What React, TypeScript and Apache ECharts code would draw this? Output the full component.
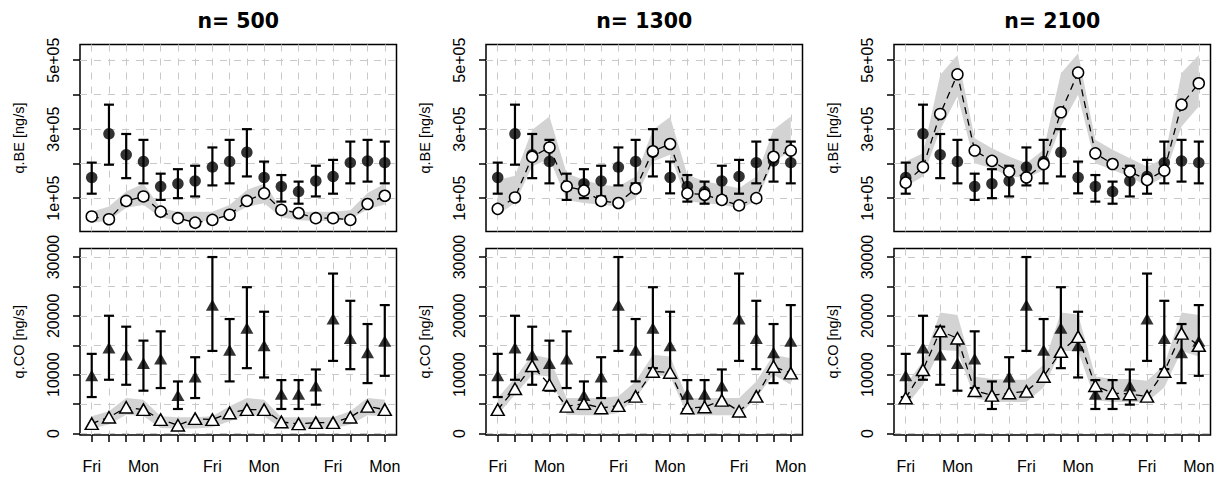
import React, { useEffect, useRef } from "react";
import * as echarts from "echarts";

const days = ["Fri","Sat","Sun","Mon","Tue","Wed","Thu","Fri","Sat","Sun","Mon","Tue","Wed","Thu","Fri","Sat","Sun","Mon"];
const dayPositions = days.map((_, i) => i + 1);
const labelledDays = [1, 4, 8, 11, 15, 18];
const titles = ["n= 500", "n= 1300", "n= 2100"];
const beTicks = [100000, 200000, 300000, 400000, 500000];
const beTickLabels = [100000, 300000, 500000];
const coTicks = [0, 5000, 10000, 15000, 20000, 25000, 30000];
const coTickLabels = [0, 10000, 20000, 30000];

// observations (same in every column)
const obsBE = [160000, 286500, 226000, 206000, 134000, 142000, 150000, 190000, 206000, 233000, 160000, 134000, 119000, 150000, 163000, 203000, 208000, 203000];
const obsBELo = [113000, 197000, 158000, 143000, 95000, 100000, 105000, 137000, 143000, 163000, 114000, 90000, 84000, 105000, 113000, 143000, 148000, 143000];
const obsBEHi = [203000, 371000, 286000, 269000, 171000, 184000, 194000, 247000, 269000, 300000, 206000, 167000, 148000, 194000, 211000, 264000, 269000, 264000];

const obsCO = [9870, 14600, 13370, 11960, 12690, 6490, 9640, 21830, 14210, 17940, 14950, 6710, 6710, 8120, 19510, 16190, 13760, 15740];
const obsCOLo = [6200, 9140, 8290, 7280, 7730, 4170, 6030, 14040, 8860, 11110, 9530, 4170, 4170, 4910, 12350, 10940, 8570, 9810];
const obsCOHi = [13540, 20020, 18160, 15790, 17370, 8850, 12970, 30000, 19460, 24870, 20700, 9080, 9080, 10890, 27190, 22560, 18610, 21830];

// model, n = 500
const modelBE500 = [47000, 39000, 92000, 105000, 61000, 42000, 29000, 37000, 52000, 92000, 114000, 66000, 57000, 42000, 42000, 37000, 83000, 107000];
const bandBE500Lo = [28000, 35000, 72000, 80000, 45000, 34000, 33000, 35000, 48000, 75000, 85000, 45000, 36000, 34000, 34000, 38000, 68000, 82000];
const bandBE500Hi = [61000, 76000, 119000, 142000, 71000, 61000, 61000, 61000, 80000, 124000, 142000, 71000, 61000, 61000, 61000, 65000, 115000, 142000];
const modelCO500 = [1690, 2760, 4460, 4060, 2370, 1410, 2540, 2370, 3500, 4060, 4060, 1970, 1640, 1860, 1860, 2760, 4620, 4060];
const bandCO500Lo = [850, 1520, 3210, 2930, 960, 850, 850, 1070, 2090, 3210, 2930, 850, 850, 850, 850, 1520, 3100, 2930];
const bandCO500Hi = [2930, 3780, 6030, 5750, 2930, 2760, 2760, 2930, 4620, 6030, 5750, 2760, 2760, 2760, 2760, 3780, 6030, 5750];

// model, n = 1300
const modelBE1300 = [69000, 102000, 220000, 247000, 134000, 122000, 92000, 86000, 128000, 236000, 257000, 114000, 110000, 95000, 79000, 100000, 220000, 238000];
const bandBE1300Lo = [52000, 86000, 192000, 215000, 95000, 86000, 81000, 76000, 100000, 206000, 226000, 90000, 86000, 81000, 71000, 90000, 206000, 235000];
const bandBE1300Hi = [153000, 165000, 298000, 337000, 172000, 153000, 139000, 134000, 163000, 298000, 335000, 168000, 149000, 139000, 129000, 163000, 298000, 337000];
const modelCO1300 = [4060, 7610, 11510, 8290, 4620, 5080, 4340, 4740, 6320, 10550, 10380, 4340, 4510, 5640, 3780, 6320, 11390, 10270];
const bandCO1300Lo = [3210, 6600, 9980, 9700, 3210, 3100, 3100, 3500, 6030, 9980, 9700, 3210, 3100, 3100, 3100, 6030, 9980, 8290];
const bandCO1300Hi = [6030, 9420, 13370, 12800, 6030, 6030, 6030, 6320, 8860, 13370, 13090, 6030, 6030, 6030, 6030, 8860, 13370, 12800];

// model, n = 2100
const modelBE2100 = [145000, 190000, 344000, 459000, 238000, 208000, 177000, 160000, 199000, 349000, 464000, 230000, 199000, 177000, 153000, 180000, 371000, 433000];
const bandBE2100Lo = [134000, 163000, 298000, 395000, 201000, 187000, 163000, 158000, 182000, 308000, 400000, 201000, 182000, 163000, 134000, 163000, 308000, 366000];
const bandBE2100Hi = [206000, 230000, 457000, 515000, 274000, 245000, 221000, 201000, 240000, 462000, 520000, 269000, 240000, 216000, 192000, 216000, 462000, 515000];
const modelCO2100 = [6030, 10830, 17430, 16190, 7280, 6490, 6880, 7160, 9700, 13930, 16470, 8120, 6880, 6710, 6320, 10550, 17030, 14950];
const bandCO2100Lo = [4620, 8290, 14210, 14040, 6030, 5360, 5360, 5360, 7840, 14040, 14040, 5640, 5360, 5360, 5360, 7840, 14040, 13090];
const bandCO2100Hi = [8290, 12240, 20590, 20140, 9700, 9250, 9140, 9140, 11680, 20590, 20250, 9700, 9250, 9250, 8970, 11680, 20590, 20140];

const FONT = "Liberation Sans, Arial, Helvetica, sans-serif";
const TITLE_FONT = "DejaVu Sans, Liberation Sans, sans-serif";
const GRID_COLOR = "#c9c9c9";

type PanelSpec = {
  col: number; row: number; model: number[]; lo: number[]; hi: number[];
  obs: number[]; obsLo: number[]; obsHi: number[]; filled: string; empty: string;
};

function buildOption() {
  const colLeft = [80, 486, 894];
  const colWidth = 316.5;
  const rowTop = [44.5, 248.5];
  const rowHeight = [187, 186.5];
  const beModels = [[modelBE500, bandBE500Lo, bandBE500Hi], [modelBE1300, bandBE1300Lo, bandBE1300Hi], [modelBE2100, bandBE2100Lo, bandBE2100Hi]];
  const coModels = [[modelCO500, bandCO500Lo, bandCO500Hi], [modelCO1300, bandCO1300Lo, bandCO1300Hi], [modelCO2100, bandCO2100Lo, bandCO2100Hi]];
  const panels: PanelSpec[] = [];
  for (let c = 0; c < 3; c++) {
    panels.push({ col: c, row: 0, model: beModels[c][0], lo: beModels[c][1], hi: beModels[c][2], obs: obsBE, obsLo: obsBELo, obsHi: obsBEHi, filled: "circle", empty: "circle" });
    panels.push({ col: c, row: 1, model: coModels[c][0], lo: coModels[c][1], hi: coModels[c][2], obs: obsCO, obsLo: obsCOLo, obsHi: obsCOHi, filled: "triangle", empty: "triangle" });
  }
  const grid: any[] = [];
  const xAxis: any[] = [];
  const yAxis: any[] = [];
  const series: any[] = [];
  const split = { show: true, lineStyle: { color: GRID_COLOR, width: 1, type: [7, 7] } };
  panels.forEach((p, g) => {
    grid.push({
      left: colLeft[p.col], top: rowTop[p.row], width: colWidth, height: rowHeight[p.row],
      show: true, borderColor: "#000", borderWidth: 1.5, backgroundColor: "transparent",
      containLabel: false, outerBoundsMode: "none",
    });
    const bottom = p.row === 1;
    xAxis.push({
      type: "value", gridIndex: g, min: 0.32, max: 18.68, position: "bottom",
      axisLine: { show: false, onZero: false },
      axisTick: { show: bottom, customValues: dayPositions, length: 7, lineStyle: { color: "#000", width: 1.5 } },
      axisLabel: {
        show: bottom, customValues: labelledDays, margin: 23, fontSize: 16, color: "#000", fontFamily: FONT,
        formatter: (v: number) => days[Math.round(v) - 1],
      },
      splitLine: { ...split, customValues: dayPositions },
    });
    const isBE = p.row === 0;
    const ticks = isBE ? beTicks : coTicks;
    const labels = isBE ? beTickLabels : coTickLabels;
    yAxis.push({
      type: "value", gridIndex: g, position: "left",
      min: isBE ? 3400 : -250, max: isBE ? 545400 : 31450,
      name: isBE ? "q.BE [ng/s]" : "q.CO [ng/s]",
      nameLocation: "middle", nameRotate: 90, nameGap: 54,
      nameTextStyle: { fontSize: 14.5, color: "#000", fontFamily: FONT },
      axisLine: { show: false, onZero: false },
      axisTick: { show: true, customValues: ticks, length: 7, lineStyle: { color: "#000", width: 1.5 } },
      axisLabel: {
        show: true, customValues: labels, rotate: 90, margin: 19, fontSize: 16, color: "#000", fontFamily: FONT,
        formatter: (v: number) => (isBE ? `${Math.round(v / 100000)}e+05` : String(v)),
      },
      splitLine: { ...split, customValues: ticks },
    });
    const lo = p.lo, hi = p.hi;
    series.push({
      type: "custom", xAxisIndex: g, yAxisIndex: g, silent: true, z: 1,
      data: dayPositions.map((x, i) => [x, lo[i], hi[i]]),
      encode: { x: 0, y: [1, 2] },
      renderItem: (params: any, api: any) => {
        if (params.dataIndex !== 0) return null;
        const top = dayPositions.map((x, i) => api.coord([x, hi[i]]));
        const bot = dayPositions.map((x, i) => api.coord([x, lo[i]])).reverse();
        return { type: "polygon", shape: { points: top.concat(bot) }, style: { fill: "#d3d3d3", stroke: null } };
      },
    });
    series.push({
      type: "custom", xAxisIndex: g, yAxisIndex: g, silent: true, z: 3,
      data: dayPositions.map((x, i) => [x, p.obsLo[i], p.obsHi[i]]),
      encode: { x: 0, y: [1, 2] },
      renderItem: (params: any, api: any) => {
        const x = api.value(0);
        const a = api.coord([x, api.value(1)]);
        const b = api.coord([x, api.value(2)]);
        const w = 5;
        const st = { stroke: "#000", lineWidth: 2.2 };
        return {
          type: "group",
          children: [
            { type: "line", shape: { x1: a[0], y1: a[1], x2: b[0], y2: b[1] }, style: st },
            { type: "line", shape: { x1: a[0] - w, y1: a[1], x2: a[0] + w, y2: a[1] }, style: st },
            { type: "line", shape: { x1: b[0] - w, y1: b[1], x2: b[0] + w, y2: b[1] }, style: st },
          ],
        };
      },
    });
    const triSize = [13, 11.5];
    series.push({
      type: "scatter", xAxisIndex: g, yAxisIndex: g, silent: true, z: 4,
      symbol: p.filled, symbolSize: p.filled === "triangle" ? triSize : 11.5,
      itemStyle: { color: "#000" },
      data: dayPositions.map((x, i) => [x, p.obs[i]]),
    });
    series.push({
      type: "line", xAxisIndex: g, yAxisIndex: g, silent: true, z: 5,
      symbol: p.empty, symbolSize: p.empty === "triangle" ? triSize : 11,
      showAllSymbol: true,
      lineStyle: { color: "#000", width: 1.3, type: [7, 5] },
      itemStyle: { color: "#fff", borderColor: "#000", borderWidth: 1.5 },
      data: dayPositions.map((x, i) => [x, p.model[i]]),
    });
  });
  const graphic = titles.map((t, c) => ({
    type: "text", x: colLeft[c] + colWidth / 2, y: 21,
    style: { text: t, align: "center", verticalAlign: "middle", fontSize: 20.5, fontWeight: "bold", fontFamily: TITLE_FONT, fill: "#000" },
  }));
  return { animation: false, backgroundColor: "#fff", grid, xAxis, yAxis, series, graphic };
}

export default function App() {
  const ref = useRef<HTMLDivElement>(null);
  useEffect(() => {
    if (!ref.current) return;
    const chart = echarts.init(ref.current, null, { renderer: "svg" });
    chart.setOption(buildOption() as any);
    return () => chart.dispose();
  }, []);
  return <div ref={ref} style={{ position: "absolute", left: 0, top: 0, width: 1220, height: 478 }} />;
}
